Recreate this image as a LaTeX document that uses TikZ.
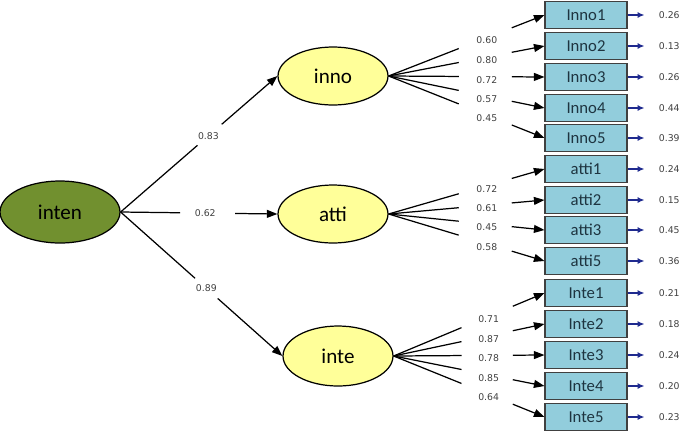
\documentclass[tikz,border=0pt]{standalone}
\usepackage{fontspec}
\setmainfont{Carlito}
\newfontfamily\numfont{DejaVu Sans}
\usetikzlibrary{arrows.meta, calc, shapes.geometric}

\definecolor{latentgreen}{HTML}{71902F}
\definecolor{latentyellow}{HTML}{FFFF99}
\definecolor{itemblue}{HTML}{92CDDC}
\definecolor{itemtext}{HTML}{1E3440}
\definecolor{errblue}{HTML}{1F2A8F}

\begin{document}
\begin{tikzpicture}[x=0.02cm, y=-0.02cm,
    latent/.style={ellipse, draw, line width=0.7pt, inner sep=0pt, font=\fontsize{12}{14}\selectfont},
    item/.style={draw=black!75, line width=0.6pt, fill=itemblue, minimum width=1.64cm, minimum height=0.54cm,
                 inner sep=0pt, font=\fontsize{9.5}{11}\selectfont, text=itemtext},
    coef/.style={font=\numfont\fontsize{5.3}{6}\selectfont, text=black!75, inner sep=0pt},
    plain/.style={line width=0.7pt},
    path/.style={line width=0.7pt, -{Triangle[length=6pt, width=4.5pt]}},
    err/.style={errblue, line width=1.2pt, -{Latex[length=4pt, width=3.5pt]}}]

    \useasboundingbox (0,0) rectangle (685,433);

    % Latent variables
    \node[latent, fill=latentgreen, minimum width=2.4cm, minimum height=1.24cm] (inten) at (60,212) {inten};
    \node[latent, fill=latentyellow, minimum width=2.2cm, minimum height=1.16cm] (inno) at (333,76) {inno};
    \node[latent, fill=latentyellow, minimum width=2.2cm, minimum height=1.16cm] (atti) at (333,214) {atti};
    \node[latent, fill=latentyellow, minimum width=2.2cm, minimum height=1.2cm] (inte) at (338,356) {inte};

    % Indicators with error terms
    \foreach \name/\y/\err in {Inno1/15/0.26, Inno2/46/0.13, Inno3/77/0.26, Inno4/108/0.44, Inno5/138/0.39,
                               atti1/169/0.24, atti2/200/0.15, atti3/230/0.45, atti5/261/0.36,
                               Inte1/293/0.21, Inte2/324/0.18, Inte3/355/0.24, Inte4/386/0.20, Inte5/417/0.23} {
        \node[item] (\name) at (586,\y) {\name};
        \coordinate (e-\name) at ($(\name.east)+(17,0)$);
        \draw[err] (\name.east) -- (e-\name);
        \node[coef, anchor=west] (r-\name) at ($(\name.east)+(31,0)$) {\err};
    }

    % Structural paths
    \foreach \lv/\val/\a/\b/\m in {inno/0.83/0.49/0.645/0.56, atti/0.62/0.38/0.73/0.54, inte/0.89/0.46/0.60/0.53} {
        \draw[plain] (inten.east) -- ($(inten.east)!\a!(\lv.west)$);
        \draw[path] ($(inten.east)!\b!(\lv.west)$) -- (\lv.west);
        \node[coef] (l-\lv) at ($(inten.east)!\m!(\lv.west)$) {\val};
    }

    % Loadings
    \foreach \lv/\name/\val in {inno/Inno1/0.60, inno/Inno2/0.80, inno/Inno3/0.72, inno/Inno4/0.57, inno/Inno5/0.45,
                                atti/atti1/0.72, atti/atti2/0.61, atti/atti3/0.45, atti/atti5/0.58,
                                inte/Inte1/0.71, inte/Inte2/0.87, inte/Inte3/0.78, inte/Inte4/0.85, inte/Inte5/0.64} {
        \draw[plain] (\lv.east) -- ($(\lv.east)!0.45!(\name.west)$);
        \draw[path] ($(\lv.east)!0.79!(\name.west)$) -- (\name.west);
        \node[coef] (l-\name) at ($(\lv.east)!0.63!(\name.west)+(0,3)$) {\val};
    }
\end{tikzpicture}
\end{document}
